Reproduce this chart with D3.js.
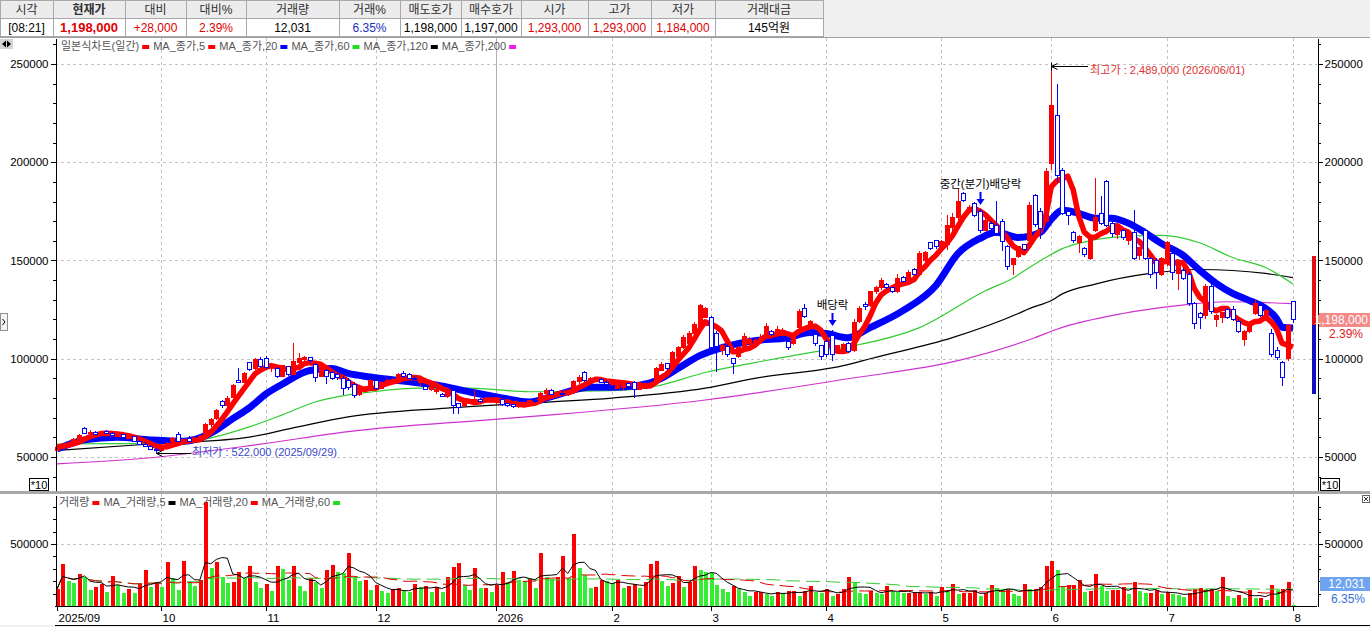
<!DOCTYPE html>
<html>
<head>
<meta charset="utf-8">
<script src="https://cdn.jsdelivr.net/npm/d3@7"></script>
<style>
  html, body { margin: 0; padding: 0; background: #ffffff; overflow: hidden; }
  svg { display: block; font-family: "Liberation Sans", "Noto Sans CJK KR", sans-serif; }
</style>
</head>
<body>
<svg id="chart" width="1370" height="627"></svg>
<script>
'use strict';

// -----------------------------------------------------
// Values.
// Prices are axis units / 1000 (the axis is in won / 10), volumes are in thousands.

const headerLabels = ['시각', '현재가', '대비', '대비%', '거래량', '거래%', '매도호가', '매수호가', '시가', '고가', '저가', '거래대금'];
const headerValues = ['[08:21]', '1,198,000', '+28,000', '2.39%', '12,031', '6.35%', '1,198,000', '1,197,000', '1,293,000', '1,293,000', '1,184,000', '145억원'];
const headerColors = ['#000', '#e00000', '#e00000', '#e00000', '#000', '#2030c0', '#000', '#000', '#e00000', '#e00000', '#e00000', '#000'];

const monthLabels = ['2025/09', '10', '11', '12', '2026', '2', '3', '4', '5', '6', '7', '8'];
const monthStarts = [0, 19, 38, 58, 80, 101, 119, 140, 161, 181, 202, 225];

const priceTicks = [50, 100, 150, 200, 250];
const volumeTicks = [500];

// [open, high, low, close] per trading day
const ohlc = [
  // 2025/09
  [53.5,55.5,53,55],[55,56.5,54.5,56],[56,57.5,55.5,57],[57,59.5,56.5,59],[59,61.5,58.5,61],
  [64.5,65.5,61.5,62],[62,63.5,61,62.5],[62.5,63,61,61.5],[61.5,63,61,62.5],[63,63.5,61.5,62],
  [62,62.5,60.5,61],[60.5,61.5,60,61.2],[61.2,61.5,59.5,60],[59.5,60.5,59,60.2],[60.2,60.5,57.5,58],
  [58,58.5,56,56.5],[56.5,57.5,55,55.5],[55.5,56,53.5,54],[54,54.5,52.2,53.5],
  // 10
  [53.5,56.5,53,56],[56,57.5,55.5,57],[58,60,57,59.5],[61.5,62.5,57.5,58],[58,59,57,58.5],
  [59.5,60.5,57.5,58],[58,59.5,57.5,59],[59,61,58.5,60.5],[61,67.5,60.5,66.5],[66.5,70,65.5,69],
  [69.5,74.5,69,73.5],[78,79,75,76],[76,81,75.5,80],[80.5,87,80,86.5],[89,95.5,87.5,88],
  [88,93,87.5,92.5],[98,98.5,93.5,94.5],[95,100.5,94.5,99.5],[99.5,101,95.5,96],
  // 11
  [100,101.5,95,95.5],[95.5,98,93,97],[95,96,90,91],[91,97,90.5,96.5],[96,96.5,91,92],
  [92,108,91.5,98.5],[98,103,97.5,100],[99.5,101.5,98.5,100.5],[100.5,101,98,99],[97,98,88,90.5],
  [91,97,90.5,96],[94,95,87,91],[93,94,89,90],[92,92.5,89,90.5],[90,91,81.5,85],
  [89,90,84,85.5],[87,88,80,81.5],[82,85,81,84],[84,86,83,85.5],[85.5,89.5,85,89],
  // 12
  [89,89.5,84,85],[85,88.5,84.5,88],[88,89.5,87,89],[88.5,90,87.5,89.5],[88,92.5,87.5,92],
  [92.5,93.5,90,91],[92,92.5,89.5,90],[90,91,88.5,89.5],[88,89.5,86,88.5],[86,87,84,84.5],
  [84.5,86.5,83.5,86],[83.5,85,82,84.5],[82,82.5,80.5,81],[81,83.5,80,83],[84,84.5,72,76],
  [77,77.5,72,75],[76,79.5,75.5,79],[78,79.5,77,79],[78.5,84,78,79.5],[79.5,80,77.5,78],
  [78,80,77.5,79.5],[78.5,80,77.5,79],
  // 2026/01
  [77.5,79.5,77,79],[79.5,80,76,76.5],[77,77.5,75.5,76],[76.5,77,75,75.5],[75.5,77.5,75,77],
  [76.5,78,76,77.5],[77.5,79,76.5,78.5],[78.5,79.5,77.5,78],[78,83,77.5,82.5],[82.5,85,81.5,84],
  [84,84.5,81.5,82],[82,83,81,82.5],[82.5,84,81.5,82],[82,83.5,81,83],[83,89,82.5,88.5],
  [88.5,91.5,87,90.5],[93,93.5,88,89],[89,90.5,88,90],[89,90,88,89.5],[89.5,90,87.5,88],
  [88,89,86.5,87],
  // 02
  [87,88.5,86,87.5],[85,89,84.5,88.5],[85.5,88.5,84,88],[87.5,88,85.5,86],[88,88.5,80,84.5],
  [84.5,87,84,86.5],[85,87,84.5,86],[86,88,85.5,87.5],[88,96,87.5,95],[94,98.5,93.5,97],
  [97.5,98,94.5,95],[95,104,94.5,103],[101,106.5,100.5,105.5],[105.5,112,105,111],[108,114,107.5,113],
  [113,118.5,112,117.5],[116,128,115.5,127],[121,126.5,120.5,125.5],
  // 03
  [121,121.5,104,105.5],[113,114,93,106],[104,107.5,102,106.5],[106,107.5,101,102],[100,100.5,92,97.5],
  [101,106.5,100.5,105.5],[105,113,104.5,111.5],[108,111,107,110],[107.5,110.5,106.5,109.5],[109,112.5,108.5,110],
  [111,118,110.5,116.5],[114,114.5,111.5,112.5],[112,116.5,111,115],[112,115.5,111.5,114],[109,109.5,104.5,105.5],
  [108,112,107,111],[116,125.5,115,124],[125.5,128,120.5,121.5],[117,119.5,116,119],[112.5,113,106.5,107.5],
  [106.5,107,99.5,101],
  // 04
  [109,110,101,102],[112,114.5,99,102],[104,107,103,106.5],[105,108,104.5,107],[108,108.5,103,103.5],
  [104,120,103.5,118.5],[119,127,118,125.5],[127.5,129,125,126.5],[127,134.5,126.5,134],[134,137,133,136],
  [136,141,135,140],[138,138.5,135.5,136],[136,136.5,133.5,134],[134,143,133.5,141],[141.5,142,139,139.5],
  [139,145,138.5,144],[145.5,146,142.5,143],[143,155,142,153.5],[150,155,149,154],[159,159.5,155.5,156],
  [160,160.5,156,157],
  // 05
  [156,160.5,155,159.5],[158,173,155.5,168],[167,174,165,172],[172,187,169,180],[184,185,179.5,180.5],
  [175,178,174.5,177],[179,180,172,173],[175,176,164,165.5],[165.5,172,165,170.5],[169,170,165.5,166.5],
  [168,180.5,162.5,163.5],[170,171,155,159.5],[157,158,145,147],[148,151.5,142.5,151],[152,157.5,151.5,157],
  [158,158.5,155,155.5],[160,179.5,159.5,178],[183,184,167,168.5],[175,176.5,161,166.5],[170,197,169.5,195.5],
  // 06
  [199.5,248.9,196,229],[224,240,190,193],[196,197,173,174],[175,176,168,173],[164,165,159,160],
  [159,163,154,162],[156,157,152,153],[151,163,150,162],[165.5,192,164.5,172],[174,183,168,169],
  [190,191,167,168],[169,170,162,163.5],[163,168,161,166],[165,166,160.5,161.5],[160,164.5,158,163.5],
  [164,175.5,150,151],[152.5,157,150,156.5],[165,166,150,151],[151,152,141,143],[150,151,135.7,144],
  [143,152,142,151],
  // 07
  [150,160,147,159],[153.5,155,140,144],[143.5,149,135,148.5],[145,146,140,141],[143,144,127,128],
  [128,129,115,118],[123,124,115,121],[122,138,120,137],[137,138,123,124],[120,123,116,122],
  [121,124,118,123.5],[125,126,120,121],[125,127,119,120],[119,120,113,114],[110,114.5,106.5,114],
  [114,119,113,118],[123,130,122,128],[127,128.5,121,122],[121.5,125.5,120,124.5],[113,115,101,102],
  [104,106,99.5,100.5],[98,99,86.2,90.5],[100,117.5,99,117],
  // 08
  [129.3,129.3,118.4,119.8]
];

const volumes = [
  137,339,202,183,258,231,129,156,177,113,242,169,108,134,108,177,290,156,196,
  156,357,228,129,363,183,161,210,840,309,357,237,188,196,277,223,323,196,142,
  177,124,323,296,210,323,161,124,223,196,142,290,331,277,263,430,237,204,210,129,
  169,124,102,134,142,121,116,177,156,161,116,156,113,237,317,350,169,129,304,148,148,116,
  169,277,196,282,210,204,215,148,430,237,215,237,403,223,580,309,250,148,156,210,204,
  183,210,148,161,177,148,194,339,363,204,161,188,242,156,196,323,290,277,
  263,169,134,116,161,137,116,81,116,116,94,81,113,102,124,124,81,124,164,116,102,
  134,81,97,134,231,194,108,97,124,108,94,161,120,110,102,102,108,116,97,116,81,
  156,129,177,97,102,102,129,81,102,169,142,134,137,97,81,177,134,134,150,323,
  363,290,161,169,169,210,116,124,258,161,121,129,129,156,97,196,124,108,108,129,97,
  116,94,89,75,102,134,142,134,134,120,231,81,62,89,67,129,67,67,48,169,129,137,194,
  12
];

// Longer moving averages as [day index, value]
const ma20Points = [[0,54],[5,58.7],[11,60],[17,58.7],[23,58],[26,59.7],[29,63.8],[32,69.5],[35,75],[38,82],
  [41,87],[46,94],[50,95],[53,92.5],[57,90.7],[63,88.6],[69,86.7],[75,83.2],[81,80.1],[86,78],[90,80.7],
  [97,85.5],[101,85.5],[106,86.5],[110,90],[113,95],[117,101.6],[121,105.6],[127,109.2],[133,110.7],
  [137,113.3],[140,112.8],[144,110.7],[148,115.8],[154,124.5],[160,137.3],[164,153.5],[168,161.2],
  [171,164.3],[175,161.7],[179,164.3],[181,171],[183,175.5],[186,174],[189,171.5],[192,171.5],[195,169],
  [198,164.3],[201,158.7],[205,152.6],[208,145],[211,138.4],[214,133.3],[217,129.7],[220,125.6],
  [222,120.5],[223,116],[225,115.6]];
const ma60Points = [[0,56.6],[10,56.8],[19,57],[26,58.6],[35,65.3],[41,71.4],[47,78],[53,81.6],[57,83],
  [66,85],[75,85],[86,83.2],[101,83.7],[109,86],[118,93],[127,98],[139,104],[145,106.6],[157,115.8],
  [169,134.6],[174,141],[177,146.4],[180,151.5],[183,156],[186,158.7],[192,161.7],[201,162.8],[208,159],
  [214,151.5],[220,146.4],[225,138]];
const ma120Points = [[0,53.3],[17,56.6],[34,59.7],[43,64.8],[53,70.4],[71,74.9],[90,78],[101,80],[118,85],
  [127,90],[144,97],[148,100],[163,110.7],[175,123],[177,125.5],[181,129.6],[183,133],[189,138],[199,143.4],
  [208,145.4],[220,143.4],[225,141.3]];
const ma200Points = [[0,46.5],[17,49.6],[37,56.5],[53,62.9],[78,68.8],[90,71.4],[118,79],[144,89.8],[164,99],
  [178,110.7],[182,115],[194,123],[204,127],[213,129],[225,128]];

const previousClose = 117.0;
const upperLimit = 152.1;
const lowerLimit = 81.9;
const highMark = [181, 248.9, '최고가 : 2,489,000 (2026/06/01)'];
const lowMark = [18, 52.2, '최저가 : 522,000 (2025/09/29)'];
const dividendMarks = [[141, '배당락'], [168, '중간(분기)배당락']];

const priceLegend = [['일본식차트(일간)', '#ff0000'], ['MA_종가,5', '#ff0000'], ['MA_종가,20', '#0000ff'],
  ['MA_종가,60', '#22dd22'], ['MA_종가,120', '#000000'], ['MA_종가,200', '#ee22ee']];
const volumeLegend = [['거래량', '#ff0000'], ['MA_거래량,5', '#000000'], ['MA_거래량,20', '#ff0000'],
  ['MA_거래량,60', '#22dd22']];

// -----------------------------------------------------
// Layout

const RED = '#ff0000';
const BLUE = '#0000ff';
const plotLeft = 55, plotRight = 1317;
const priceTop = 38, priceBottom = 490;
const volTop = 495, volBottom = 606;

const svg = d3.select('#chart');

const x = d3.scaleLinear().domain([0, ohlc.length - 1]).range([57, 1293]);
const y = d3.scaleLinear().domain([33.2, 263.2]).range([priceBottom, priceTop]);
const yv = d3.scaleLinear().domain([0, 895]).range([volBottom, volTop]);
const px = i => Math.round(x(i)) + 0.5;

// backgrounds
svg.append('rect').attr('width', 1370).attr('height', 627).attr('fill', '#ffffff');
svg.append('rect').attr('x', 0).attr('y', 625).attr('width', 1370).attr('height', 2).attr('fill', '#f0f0f0');

// -----------------------------------------------------
// Header table

const colEdges = [0, 53, 125, 186, 246, 339, 400, 461, 521, 588, 651, 715, 823];
const header = svg.append('g');
header.append('rect').attr('x', 0).attr('y', 0).attr('width', 1370).attr('height', 37).attr('fill', '#f0f0f0');
headerLabels.forEach((label, i) => {
    const x0 = colEdges[i], x1 = colEdges[i + 1];
    header.append('rect').attr('x', x0 + 0.5).attr('y', 0.5).attr('width', x1 - x0).attr('height', 18)
      .attr('fill', '#ececec').attr('stroke', '#a8a8a8');
    header.append('rect').attr('x', x0 + 0.5).attr('y', 18.5).attr('width', x1 - x0).attr('height', 18)
      .attr('fill', '#ffffff').attr('stroke', '#a8a8a8');
    header.append('text').attr('x', (x0 + x1) / 2).attr('y', 14).attr('text-anchor', 'middle')
      .attr('font-size', 12).attr('fill', '#303030').attr('font-weight', i === 1 ? 'bold' : 'normal')
      .text(label);
    header.append('text').attr('x', (x0 + x1) / 2).attr('y', 32).attr('text-anchor', 'middle')
      .attr('font-size', i === 1 ? 13 : 12).attr('font-weight', i === 1 ? 'bold' : 'normal')
      .attr('fill', headerColors[i]).text(headerValues[i]);
});
svg.append('line').attr('x1', 0).attr('x2', 1370).attr('y1', 37.5).attr('y2', 37.5).attr('stroke', '#a0a0a0');

// -----------------------------------------------------
// Grid

const grid = svg.append('g').attr('shape-rendering', 'crispEdges');
grid.selectAll('line.h').data(priceTicks).join('line')
    .attr('x1', plotLeft).attr('x2', plotRight)
    .attr('y1', d => Math.round(y(d)) + 0.5).attr('y2', d => Math.round(y(d)) + 0.5)
    .attr('stroke', '#c4c4c4').attr('stroke-dasharray', '3,3');
grid.selectAll('line.hv').data(volumeTicks).join('line')
    .attr('x1', plotLeft).attr('x2', plotRight)
    .attr('y1', d => Math.round(yv(d)) + 0.5).attr('y2', d => Math.round(yv(d)) + 0.5)
    .attr('stroke', '#c4c4c4').attr('stroke-dasharray', '3,3');
grid.selectAll('line.v').data(monthStarts.slice(1)).join('line')
    .attr('x1', d => px(d)).attr('x2', d => px(d))
    .attr('y1', priceTop).attr('y2', volBottom)
    .attr('stroke', (d, i) => monthLabels[i + 1] === '2026' ? '#b0b0b0' : '#c4c4c4')
    .attr('stroke-dasharray', (d, i) => monthLabels[i + 1] === '2026' ? null : '3,3');

// -----------------------------------------------------
// Moving averages of the price

const closes = ohlc.map(d => d[3]);
const ma5 = closes.map((c, i) => d3.mean(closes.slice(Math.max(0, i - 4), i + 1)));

const smoothLine = d3.line().x(d => x(d[0])).y(d => y(d[1])).curve(d3.curveMonotoneX);
const dailyLine = d3.line().x((d, i) => x(i)).y(d => y(d));

const maLayer = svg.append('g').attr('fill', 'none');
maLayer.append('path').attr('d', smoothLine(ma200Points)).attr('stroke', '#cc33cc').attr('stroke-width', 1.2);
maLayer.append('path').attr('d', smoothLine(ma120Points)).attr('stroke', '#000000').attr('stroke-width', 1.2);
maLayer.append('path').attr('d', smoothLine(ma60Points)).attr('stroke', '#33cc33').attr('stroke-width', 1.2);
maLayer.append('path').attr('d', smoothLine(ma20Points)).attr('stroke', BLUE).attr('stroke-width', 7);
maLayer.append('path').attr('d', dailyLine(ma5)).attr('stroke', RED).attr('stroke-width', 5.5)
    .attr('stroke-linejoin', 'round');

// -----------------------------------------------------
// Candles

const candles = svg.append('g').attr('shape-rendering', 'crispEdges')
    .selectAll('g').data(ohlc).join('g');
candles.append('line')
    .attr('x1', (d, i) => px(i)).attr('x2', (d, i) => px(i))
    .attr('y1', d => y(d[1])).attr('y2', d => y(d[2]))
    .attr('stroke', d => d[3] >= d[0] ? RED : BLUE);
candles.append('rect')
    .attr('x', (d, i) => px(i) - 2).attr('width', 4)
    .attr('y', d => y(Math.max(d[0], d[3])))
    .attr('height', d => Math.max(1, Math.abs(y(d[0]) - y(d[3]))))
    .attr('fill', d => d[3] >= d[0] ? RED : '#ffffff')
    .attr('stroke', d => d[3] >= d[0] ? RED : BLUE);

// -----------------------------------------------------
// Annotations

const notes = svg.append('g').attr('font-size', 11);
const hx = px(highMark[0]), hy = Math.round(y(highMark[1])) + 0.5;
notes.append('line').attr('x1', hx).attr('x2', 1088).attr('y1', hy).attr('y2', hy).attr('stroke', '#000');
notes.append('path').attr('d', `M${hx + 6},${hy - 3}L${hx},${hy}L${hx + 6},${hy + 3}`).attr('fill', 'none').attr('stroke', '#000');
notes.append('line').attr('x1', hx).attr('x2', hx).attr('y1', hy - 4).attr('y2', hy + 4).attr('stroke', '#000');
notes.append('text').attr('x', 1090).attr('y', hy + 7).attr('fill', '#e03030')
    .attr('textLength', 155).attr('lengthAdjust', 'spacingAndGlyphs').text(highMark[2]);

const lx = px(lowMark[0]), ly = Math.round(y(lowMark[1])) + 0.5;
notes.append('line').attr('x1', lx).attr('x2', 191).attr('y1', ly).attr('y2', ly).attr('stroke', '#000');
notes.append('path').attr('d', `M${lx + 6},${ly - 3}L${lx},${ly}L${lx + 6},${ly + 3}`).attr('fill', 'none').attr('stroke', '#000');
notes.append('text').attr('x', 192).attr('y', ly + 2).attr('fill', '#3a48c8')
    .attr('textLength', 145).attr('lengthAdjust', 'spacingAndGlyphs').text(lowMark[2]);

dividendMarks.forEach(([i, label]) => {
    const ax = px(i);
    const tip = Math.round(y(ohlc[i][1])) - 4;
    notes.append('line').attr('x1', ax).attr('x2', ax).attr('y1', tip - 13).attr('y2', tip - 4)
      .attr('stroke', BLUE).attr('stroke-width', 2);
    notes.append('path').attr('d', `M${ax - 4},${tip - 6}L${ax + 4},${tip - 6}L${ax},${tip}Z`).attr('fill', BLUE);
    notes.append('text').attr('x', ax).attr('y', tip - 17).attr('text-anchor', 'middle')
      .attr('fill', '#000').attr('font-size', 11.5).text(label);
});

// -----------------------------------------------------
// Volume bars and their moving averages

const volColor = (v, i) => (i === 0 || v >= volumes[i - 1]) ? RED : '#33ee33';
svg.append('g').attr('shape-rendering', 'crispEdges')
    .selectAll('rect').data(volumes).join('rect')
    .attr('x', (d, i) => Math.round(x(i)) - 1.5).attr('width', 4)
    .attr('y', d => yv(d)).attr('height', d => volBottom - yv(d))
    .attr('fill', volColor);

const movingAverage = (values, n) => values.map((v, i) => d3.mean(values.slice(Math.max(0, i - n + 1), i + 1)));
const volLine = d3.line().x((d, i) => x(i)).y(d => yv(d));
const volMa = svg.append('g').attr('fill', 'none');
volMa.append('path').attr('d', volLine(movingAverage(volumes, 60))).attr('stroke', '#33cc33').attr('stroke-dasharray', '14,6');
volMa.append('path').attr('d', volLine(movingAverage(volumes, 20))).attr('stroke', '#dd0000').attr('stroke-dasharray', '14,6');
volMa.append('path').attr('d', volLine(movingAverage(volumes, 5))).attr('stroke', '#000');

// -----------------------------------------------------
// Axes

function styleAxis(g) {
    g.selectAll('text').attr('font-size', 11.5).attr('fill', '#000');
    g.selectAll('line, path').attr('stroke', '#000');
    g.attr('shape-rendering', 'crispEdges').attr('font-family', null);
}
const minorPrice = d3.range(40, 261, 10).filter(v => !priceTicks.includes(v));
const minorVol = d3.range(100, 900, 100).filter(v => !volumeTicks.includes(v));

svg.append('g').attr('transform', `translate(${plotLeft + 0.5},0)`)
    .call(d3.axisLeft(y).tickValues(priceTicks).tickFormat(d => d * 1000).tickSize(5).tickPadding(2).tickSizeOuter(0))
    .call(styleAxis);
svg.append('g').attr('transform', `translate(${plotLeft + 0.5},0)`)
    .call(d3.axisLeft(y).tickValues(minorPrice).tickFormat('').tickSize(3))
    .call(styleAxis).call(g => g.select('.domain').remove());
svg.append('g').attr('transform', `translate(${plotRight + 0.5},0)`)
    .call(d3.axisRight(y).tickValues(priceTicks).tickFormat(d => d * 1000).tickSize(5).tickPadding(2).tickSizeOuter(0))
    .call(styleAxis);
svg.append('g').attr('transform', `translate(${plotRight + 0.5},0)`)
    .call(d3.axisRight(y).tickValues(minorPrice).tickFormat('').tickSize(3))
    .call(styleAxis).call(g => g.select('.domain').remove());

svg.append('g').attr('transform', `translate(${plotLeft + 0.5},0)`)
    .call(d3.axisLeft(yv).tickValues(volumeTicks).tickFormat(d => d * 1000).tickSize(5).tickPadding(2).tickSizeOuter(0))
    .call(styleAxis);
svg.append('g').attr('transform', `translate(${plotLeft + 0.5},0)`)
    .call(d3.axisLeft(yv).tickValues(minorVol).tickFormat('').tickSize(3))
    .call(styleAxis).call(g => g.select('.domain').remove());
svg.append('g').attr('transform', `translate(${plotRight + 0.5},0)`)
    .call(d3.axisRight(yv).tickValues(volumeTicks).tickFormat(d => d * 1000).tickSize(5).tickPadding(2).tickSizeOuter(0))
    .call(styleAxis);
svg.append('g').attr('transform', `translate(${plotRight + 0.5},0)`)
    .call(d3.axisRight(yv).tickValues(minorVol).tickFormat('').tickSize(3))
    .call(styleAxis).call(g => g.select('.domain').remove());

const xAxis = svg.append('g').attr('transform', `translate(0,${volBottom + 0.5})`)
    .call(d3.axisBottom(x).tickValues(monthStarts).tickFormat((d, i) => monthLabels[i]).tickSize(4).tickPadding(3))
    .call(styleAxis);
xAxis.select('.domain').remove();
xAxis.selectAll('.tick').attr('transform', d => `translate(${px(d)},0)`);
xAxis.selectAll('.tick text').attr('text-anchor', 'start').attr('x', 1);
svg.append('line').attr('x1', plotLeft).attr('x2', plotRight).attr('y1', volBottom + 0.5).attr('y2', volBottom + 0.5).attr('stroke', '#000');
svg.append('line').attr('x1', plotLeft).attr('x2', 1370).attr('y1', 625.5).attr('y2', 625.5).attr('stroke', '#000');

// panel separator
svg.append('rect').attr('x', 0).attr('y', 491).attr('width', 1370).attr('height', 3).attr('fill', '#a8a8a8');

// -----------------------------------------------------
// Right side price marks

const marks = svg.append('g').attr('shape-rendering', 'crispEdges');
marks.append('rect').attr('x', 1312).attr('width', 4)
    .attr('y', y(upperLimit)).attr('height', y(previousClose) - y(upperLimit)).attr('fill', '#e01010');
marks.append('rect').attr('x', 1312).attr('width', 4)
    .attr('y', y(previousClose)).attr('height', y(lowerLimit) - y(previousClose)).attr('fill', '#1010c0');
const cy = Math.round(y(headerValues[1].replace(/,/g, '') / 10000));
marks.append('rect').attr('x', 1319).attr('y', cy - 7).attr('width', 51).attr('height', 14).attr('fill', '#f28a8a');
svg.append('text').attr('x', 1368).attr('y', cy + 4).attr('text-anchor', 'end').attr('font-size', 12)
    .attr('fill', '#ffffff').text(headerValues[1]);
svg.append('text').attr('x', 1346).attr('y', cy + 18).attr('text-anchor', 'middle').attr('font-size', 12)
    .attr('fill', '#e02020').text(headerValues[3]);

marks.append('rect').attr('x', 1320).attr('y', 577).attr('width', 50).attr('height', 14).attr('fill', '#6ea4f2');
svg.append('text').attr('x', 1365).attr('y', 588).attr('text-anchor', 'end').attr('font-size', 12)
    .attr('fill', '#ffffff').text(headerValues[4]);
svg.append('text').attr('x', 1365).attr('y', 603).attr('text-anchor', 'end').attr('font-size', 12)
    .attr('fill', '#3a6fd8').text(headerValues[5]);

// -----------------------------------------------------
// Legends and small widgets

function drawLegend(items, x0, yMid) {
    let cx = x0;
    items.forEach(([label, color]) => {
        const t = svg.append('text').attr('x', cx).attr('y', yMid + 4).attr('font-size', 11)
          .attr('fill', '#555').text(label);
        cx += t.node().getComputedTextLength() + 3;
        svg.append('rect').attr('x', cx).attr('y', yMid - 1).attr('width', 7).attr('height', 4).attr('fill', color);
        cx += 11;
    });
}
drawLegend(priceLegend, 61, 46);
drawLegend(volumeLegend, 59, 502);

// scroll arrows top left
svg.append('rect').attr('x', 0).attr('y', 39).attr('width', 13).attr('height', 10).attr('fill', '#d4d4d4');
svg.append('path').attr('d', 'M2,44L6,40.5L6,47.5Z M11,44L7,40.5L7,47.5Z').attr('fill', '#000');
// side handle
svg.append('rect').attr('x', 0.5).attr('y', 313.5).attr('width', 7).attr('height', 17).attr('fill', '#f4f4f4').attr('stroke', '#909090');
svg.append('path').attr('d', 'M2.5,319L5,322L2.5,325').attr('fill', 'none').attr('stroke', '#000');

// "*10" unit boxes
[[29, 478], [1320, 478]].forEach(([bx, by]) => {
    svg.append('rect').attr('x', bx + 0.5).attr('y', by + 0.5).attr('width', 19).attr('height', 12)
      .attr('fill', '#fff').attr('stroke', '#000');
    svg.append('text').attr('x', bx + 10).attr('y', by + 10.5).attr('text-anchor', 'middle')
      .attr('font-size', 11).text('*10');
});

// close box in the volume panel
svg.append('rect').attr('x', 1362.5).attr('y', 495.5).attr('width', 7).attr('height', 7).attr('fill', '#fff').attr('stroke', '#666');
svg.append('path').attr('d', 'M1364,497L1368,501M1368,497L1364,501').attr('stroke', '#333');
</script>
</body>
</html>
